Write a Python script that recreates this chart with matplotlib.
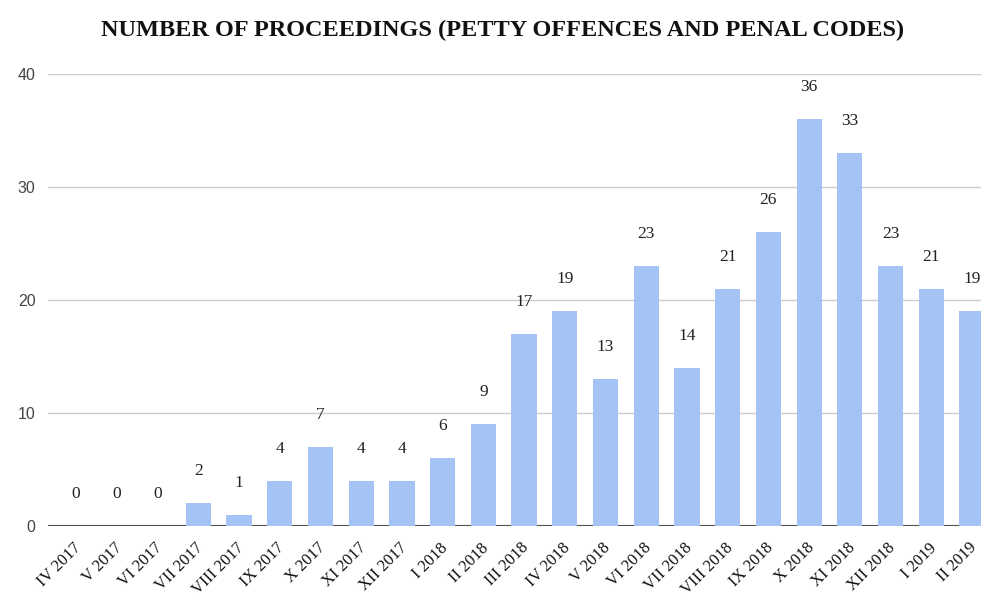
import numpy as np
import matplotlib.transforms as mtransforms
from matplotlib import pyplot as plt

months = ['IV 2017', 'V 2017', 'VI 2017', 'VII 2017', 'VIII 2017', 'IX 2017',
          'X 2017', 'XI 2017', 'XII 2017', 'I 2018', 'II 2018', 'III 2018',
          'IV 2018', 'V 2018', 'VI 2018', 'VII 2018', 'VIII 2018', 'IX 2018',
          'X 2018', 'XI 2018', 'XII 2018', 'I 2019', 'II 2019']
proceedings = [0, 0, 0, 2, 1, 4, 7, 4, 4, 6, 9, 17, 19, 13, 23, 14, 21, 26,
               36, 33, 23, 21, 19]
y_ticks = [0, 10, 20, 30, 40]

bar_color = '#a4c2f4'
serif = ['Liberation Serif', 'DejaVu Serif']

figure = plt.figure(figsize=(9.81, 5.98), dpi=100)
axes = figure.add_axes([48 / 981, 72 / 598, 1 - 48 / 981, 452 / 598])

x = np.arange(len(months))
axes.bar(x, proceedings, width=0.62, color=bar_color, zorder=2)

for xi, value in zip(x, proceedings):
    axes.annotate(str(value), (xi, value), xytext=(0, 23), textcoords='offset points',
                  ha='center', va='center', fontsize=12.5, family=serif,
                  color='#222222', zorder=3, annotation_clip=False)

axes.set_xlim(-0.69, 22.22)
axes.set_ylim(0, 40)
axes.set_yticks(y_ticks)
axes.set_yticklabels([str(t) for t in y_ticks], family=['Liberation Sans'],
                     fontsize=11.5, color='#444444')
axes.grid(axis='y', color='#cccccc', linewidth=1.0, zorder=0)
axes.axhline(0, color='#333333', linewidth=1.5, zorder=1)
axes.tick_params(axis='y', length=0, pad=9)
axes.tick_params(axis='x', length=0, pad=10)

axes.set_xticks(x)
axes.set_xticklabels(months, rotation=45, ha='right', rotation_mode='anchor',
                     family=serif, fontsize=12, color='#111111')
# nudge the rotated labels a touch left so the last one stays inside the figure
shift = mtransforms.ScaledTranslation(-3 / 100, 0, figure.dpi_scale_trans)
for label in axes.get_xticklabels():
    label.set_transform(label.get_transform() + shift)
for spine in axes.spines.values():
    spine.set_visible(False)

figure.text(503 / 981, 1 - 30 / 598,
            'NUMBER OF PROCEEDINGS (PETTY OFFENCES AND PENAL CODES)',
            ha='center', va='center', fontsize=17.5, fontweight='bold',
            family=serif, color='#111111')

figure.savefig('out.png', dpi=100)
